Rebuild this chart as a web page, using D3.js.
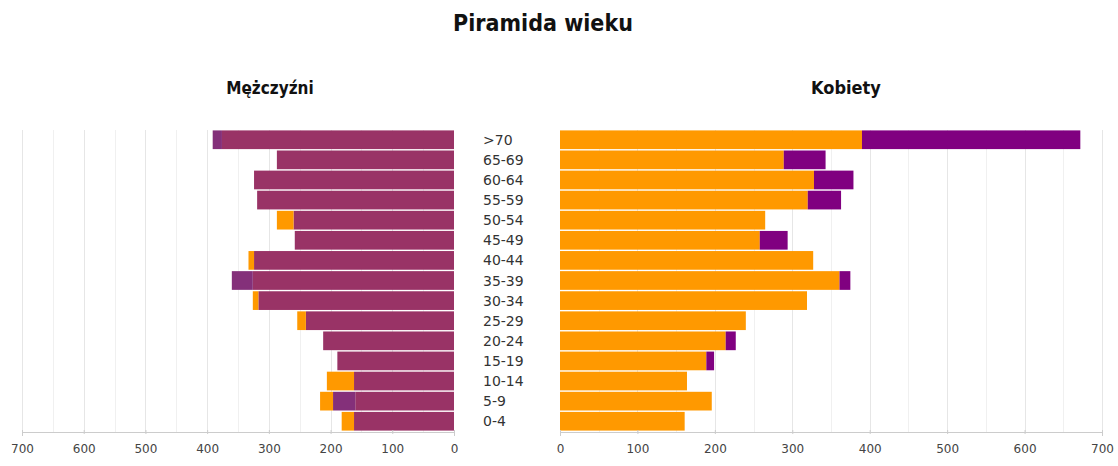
<!DOCTYPE html>
<html>
<head>
<meta charset="utf-8">
<script src="https://cdn.jsdelivr.net/npm/d3@7/dist/d3.min.js"></script>
<style>
  html, body { margin: 0; padding: 0; background: #fff; }
  svg { display: block; }
  .tick text { font-family: "DejaVu Sans", Verdana, sans-serif; font-size: 12px; fill: #444; }
</style>
</head>
<body>
<svg id="chart" width="1118" height="466"></svg>
<script>
// Age groups, top to bottom
const ageGroups = [">70", "65-69", "60-64", "55-59", "50-54", "45-49", "40-44", "35-39",
                   "30-34", "25-29", "20-24", "15-19", "10-14", "5-9", "0-4"];

// Men (left side): base segment, middle segment, outer segment
const menBase   = [376, 287, 324, 319, 260, 258, 324, 326, 317, 240, 212, 189, 162, 160, 162];
const menMiddle = [ 15,   0,   0,   0,   0,   0,   0,  34,   0,   0,   0,   0,   0,  36,   0];
const menOuter  = [  0,   0,   0,   0,  27,   0,   9,   0,   9,  14,   0,   0,  44,  21,  20];

// Women (right side): base segment, outer segment
const womenBase  = [390, 289, 328, 320, 265, 258, 327, 361, 319, 240, 214, 189, 164, 196, 161];
const womenOuter = [282,  54,  51,  43,   0,  36,   0,  14,   0,   0,  13,  10,   0,   0,   0];

const axisTicks = [0, 100, 200, 300, 400, 500, 600, 700];
const gridStep = 50;
const axisMax = 700;

const colMaroon = "#993366", colPurple = "#800080", colPlum = "#84307a", colOrange = "#ff9900";

const svg = d3.select("#chart");

const headFont = "'DejaVu Sans Condensed', 'DejaVu Sans', sans-serif";

// Titles
svg.append("text")
  .attr("x", 543).attr("y", 31)
  .attr("text-anchor", "middle")
  .style("font-family", headFont).style("font-stretch", "condensed")
  .style("font-weight", "bold").style("font-size", "23px").style("fill", "#111")
  .text("Piramida wieku");

svg.append("text")
  .attr("x", 270).attr("y", 94)
  .attr("text-anchor", "middle")
  .style("font-family", headFont).style("font-stretch", "condensed")
  .style("font-weight", "bold").style("font-size", "17px").style("fill", "#111")
  .text("Mężczyźni");

svg.append("text")
  .attr("x", 846).attr("y", 94)
  .attr("text-anchor", "middle")
  .style("font-family", headFont).style("font-stretch", "condensed")
  .style("font-weight", "bold").style("font-size", "18px").style("fill", "#111")
  .text("Kobiety");

const plotTop = 130, plotBottom = 431;
const y = d3.scaleBand().domain(ageGroups).range([plotTop, plotBottom]).paddingInner(0.07).paddingOuter(0.02);

const xLeft = d3.scaleLinear().domain([0, axisMax]).range([454, 22]);
const xRight = d3.scaleLinear().domain([0, axisMax]).range([560, 1102]);

const gridValues = d3.range(gridStep, axisMax + 1, gridStep);

function drawPanel(x, rows, keys, colors) {
  const g = svg.append("g");
  // vertical gridlines
  g.selectAll("line.grid").data(gridValues).join("line")
    .attr("class", "grid")
    .attr("x1", d => Math.round(x(d)) + 0.5).attr("x2", d => Math.round(x(d)) + 0.5)
    .attr("y1", plotTop).attr("y2", plotBottom + 1)
    .attr("stroke", d => d % 100 === 0 ? "#e6e6e6" : "#f0f0f0").attr("stroke-width", 1);

  const stack = d3.stack().keys(keys)(rows);
  stack.forEach((layer, i) => {
    g.selectAll(null).data(layer).join("rect")
      .attr("x", d => Math.min(x(d[0]), x(d[1])))
      .attr("width", d => Math.abs(x(d[1]) - x(d[0])))
      .attr("y", d => y(d.data.age))
      .attr("height", y.bandwidth())
      .attr("fill", colors[i]);
  });

  const axis = d3.axisBottom(x).tickValues(axisTicks).tickSize(4).tickPadding(8);
  const ag = g.append("g").attr("transform", `translate(0,${plotBottom + 1})`).call(axis);
  ag.select(".domain").attr("stroke", "#cccccc");
  ag.selectAll(".tick line").attr("stroke", "#cccccc").attr("transform", "translate(0,-2)");
}

const menRows = ageGroups.map((age, i) => ({ age, base: menBase[i], middle: menMiddle[i], outer: menOuter[i] }));
const womenRows = ageGroups.map((age, i) => ({ age, base: womenBase[i], outer: womenOuter[i] }));

drawPanel(xLeft, menRows, ["base", "middle", "outer"], [colMaroon, colPlum, colOrange]);
drawPanel(xRight, womenRows, ["base", "outer"], [colOrange, colPurple]);

// Age group labels between the two panels
svg.append("g").selectAll("text").data(ageGroups).join("text")
  .attr("x", 483)
  .attr("y", d => y(d) + y.bandwidth() / 2)
  .attr("dy", "0.36em")
  .style("font-family", "'DejaVu Sans', Verdana, sans-serif")
  .style("font-size", "14px").style("fill", "#333")
  .text(d => d);
</script>
</body>
</html>
